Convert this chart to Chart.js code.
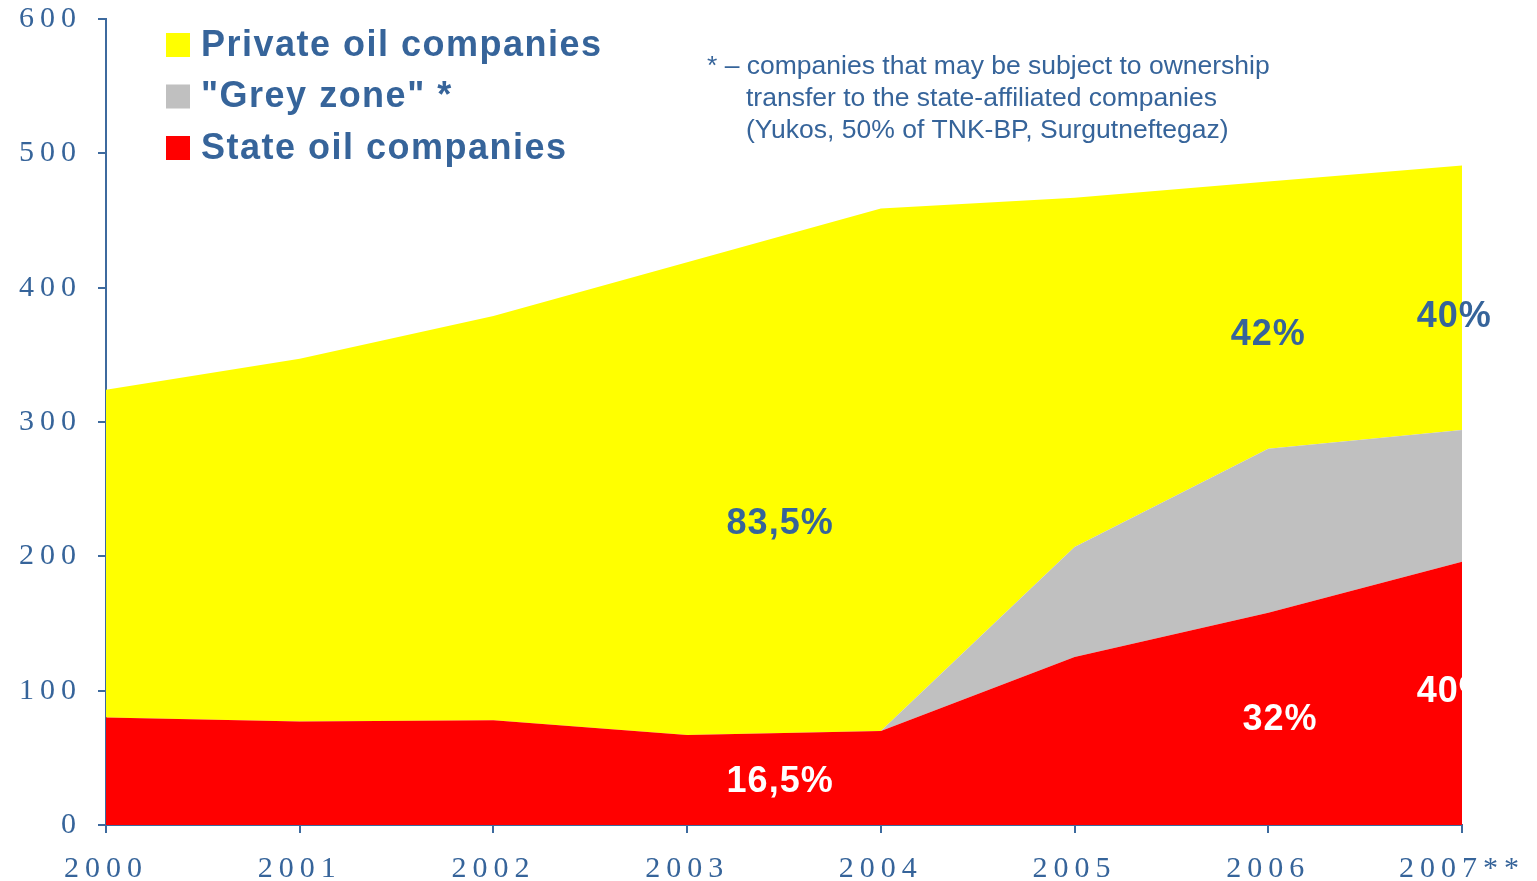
<!DOCTYPE html>
<html>
<head>
<meta charset="utf-8">
<script src="https://cdn.jsdelivr.net/npm/chart.js@4"></script>
<style>
  body { margin: 0; background: #fff; }
  #wrap { width: 1537px; height: 881px; }
</style>
</head>
<body>
<div id="wrap"><canvas id="oilChart" width="1537" height="881"></canvas></div>
<script>
const years = ['2000', '2001', '2002', '2003', '2004', '2005', '2006', '2007**'];
const stateOil = [80, 77, 78, 67, 70, 125, 158, 196];
const greyZone = [0, 0, 0, 0, 0, 82, 122, 98];
const privateOil = [244, 270, 301, 352, 389, 260, 199, 197];
const yTicks = [0, 100, 200, 300, 400, 500, 600];

const BLUE = '#36649a';
const AXIS = '#3d6a9e';

// shares written on top of the areas (x = year index, y = value)
const shareLabels = [
    { text: '83,5%', x: 3.48, y: 224, color: BLUE },
    { text: '16,5%', x: 3.48, y: 32, color: '#fff' },
    { text: '42%', x: 6.0, y: 365, color: BLUE },
    { text: '40%', x: 6.96, y: 378, color: BLUE },
    { text: '32%', x: 6.06, y: 78, color: '#fff' },
    { text: '40%', x: 6.96, y: 99, color: '#fff', clip: true }
];

const tickSpacing = {
    id: 'tickSpacing',
    beforeDraw(chart) {
        chart.ctx.letterSpacing = '6px';
    }
};

const overlay = {
    id: 'overlay',
    afterDraw(chart) {
        const ctx = chart.ctx;
        const x = chart.scales.x, y = chart.scales.y;
        const area = chart.chartArea;
        ctx.save();
        ctx.letterSpacing = '1.5px';
        ctx.textBaseline = 'middle';

        // legend, top series first
        const ds = chart.data.datasets;
        const order = [2, 1, 0];
        ctx.font = 'bold 36px "Liberation Sans", Arial, sans-serif';
        order.forEach((d, i) => {
            const cy = 45 + i * 51.5;
            ctx.fillStyle = ds[d].backgroundColor;
            ctx.fillRect(166, cy - 12, 24, 24);
            ctx.fillStyle = BLUE;
            ctx.textAlign = 'left';
            ctx.fillText(ds[d].label, 201, cy + 1);
        });

        // footnote
        ctx.letterSpacing = '0px';
        ctx.font = '26.5px "Liberation Sans", Arial, sans-serif';
        ctx.fillStyle = BLUE;
        ctx.fillText('* \u2013 companies that may be subject to ownership', 707, 67);
        ctx.fillText('transfer to the state-affiliated companies', 746, 99);
        ctx.fillText('(Yukos, 50% of TNK-BP, Surgutneftegaz)', 746, 131);

        // share labels
        ctx.letterSpacing = '1px';
        ctx.font = 'bold 36px "Liberation Sans", Arial, sans-serif';
        ctx.textAlign = 'center';
        shareLabels.forEach(l => {
            ctx.save();
            if (l.clip) {
                ctx.beginPath();
                ctx.rect(area.left, area.top, area.right - area.left, area.bottom - area.top);
                ctx.clip();
            }
            ctx.fillStyle = l.color;
            ctx.fillText(l.text, x.getPixelForValue(l.x), y.getPixelForValue(l.y));
            ctx.restore();
        });
        ctx.restore();
    }
};

const ctx = document.getElementById('oilChart').getContext('2d');
new Chart(ctx, {
    type: 'line',
    data: {
        labels: years,
        datasets: [
            {
                label: 'State oil companies',
                data: stateOil,
                backgroundColor: '#ff0000',
                fill: 'origin'
            },
            {
                label: '"Grey zone" *',
                data: greyZone,
                backgroundColor: '#c0c0c0',
                fill: '-1'
            },
            {
                label: 'Private oil companies',
                data: privateOil,
                backgroundColor: '#ffff00',
                fill: '-1'
            }
        ]
    },
    options: {
        responsive: false,
        animation: false,
        layout: { padding: { top: 19, right: 75, left: 0, bottom: 0 } },
        elements: {
            line: { borderWidth: 0, tension: 0 },
            point: { radius: 0, hoverRadius: 0 }
        },
        plugins: {
            legend: { display: false },
            tooltip: { enabled: false }
        },
        scales: {
            x: {
                offset: false,
                grid: { drawOnChartArea: false, tickLength: 8, color: AXIS, lineWidth: 2 },
                border: { color: AXIS, width: 2 },
                ticks: {
                    color: BLUE,
                    padding: 18,
                    maxRotation: 0,
                    font: { family: '"Liberation Serif", serif', size: 30 }
                },
                afterFit(scale) {
                    scale.height = 56;
                    scale.paddingLeft = 0;
                    scale.paddingRight = 0;
                }
            },
            y: {
                stacked: true,
                min: 0,
                max: 600,
                afterBuildTicks(scale) { scale.ticks = yTicks.map(v => ({ value: v })); },
                grid: { drawOnChartArea: false, tickLength: 8, color: AXIS, lineWidth: 2 },
                border: { color: AXIS, width: 2 },
                ticks: {
                    color: BLUE,
                    padding: 16,
                    font: { family: '"Liberation Serif", serif', size: 30 }
                },
                afterFit(scale) {
                    scale.width = 106;
                    scale.paddingTop = 0;
                    scale.paddingBottom = 0;
                }
            }
        }
    },
    plugins: [tickSpacing, overlay]
});
</script>
</body>
</html>
